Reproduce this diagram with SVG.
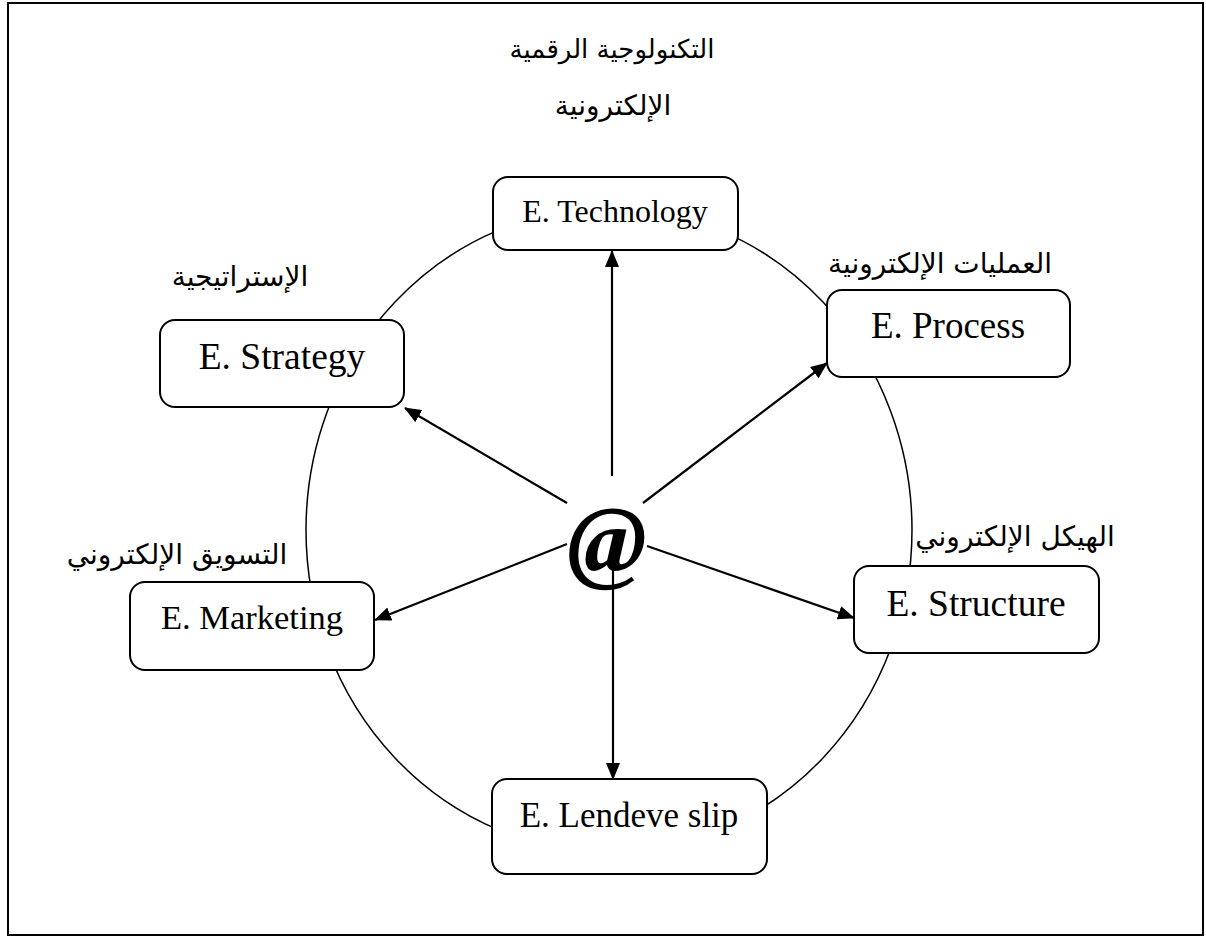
<svg xmlns="http://www.w3.org/2000/svg" width="1206" height="938" viewBox="0 0 1206 938">
<defs>
<marker id="ah" viewBox="0 0 17 14" refX="16" refY="7" markerWidth="17" markerHeight="14" markerUnits="userSpaceOnUse" orient="auto">
<path d="M0,0 L17,7 L0,14 Z" fill="#000"/>
</marker>
<style>
.box{fill:#fff;stroke:#000;stroke-width:2}
.en{font-family:"Liberation Serif","Times New Roman",serif;fill:#000;text-anchor:middle}
.ar{font-family:"DejaVu Sans","Noto Sans",sans-serif;fill:#000;text-anchor:middle;font-size:28px}
.conn{stroke:#000;stroke-width:2.2;fill:none;marker-end:url(#ah)}
</style>
</defs>
<rect x="0" y="0" width="1206" height="938" fill="#fff"/>
<rect x="8" y="3" width="1195" height="932" fill="none" stroke="#000" stroke-width="2"/>
<ellipse id="ring" cx="609" cy="530" rx="303" ry="322" fill="none" stroke="#000" stroke-width="1.5"/>
<g id="connectors">
<line class="conn" x1="612" y1="476" x2="612" y2="251"/>
<line class="conn" x1="567" y1="503" x2="405" y2="408"/>
<line class="conn" x1="567" y1="544" x2="375" y2="620"/>
<line class="conn" x1="643" y1="503" x2="827" y2="363"/>
<line class="conn" x1="647" y1="546" x2="854" y2="618"/>
<line class="conn" x1="613" y1="570" x2="613" y2="779"/>
</g>
<g id="center">
<text x="607" y="572" font-family="Liberation Serif,serif" font-weight="bold" font-style="italic" font-size="96" text-anchor="middle">@</text>
</g>
<g id="title">
<text class="ar" x="612" y="58" direction="rtl" style="font-size:26px">التكنولوجية الرقمية</text>
<text class="ar" x="613" y="115" direction="rtl">الإلكترونية</text>
</g>
<g id="technology">
<rect class="box" x="493" y="177" width="245" height="73" rx="15"/>
<text class="en" x="615" y="222" font-size="32">E. Technology</text>
</g>
<g id="strategy">
<text class="ar" x="240" y="286" direction="rtl">الإستراتيجية</text>
<rect class="box" x="160" y="320" width="244" height="87" rx="15"/>
<text class="en" x="282" y="369" font-size="37.5">E. Strategy</text>
</g>
<g id="process">
<text class="ar" x="940" y="273" direction="rtl">العمليات الإلكترونية</text>
<rect class="box" x="827" y="290" width="243" height="87" rx="15"/>
<text class="en" x="948" y="338" font-size="37">E. Process</text>
</g>
<g id="marketing">
<text class="ar" x="177" y="564" direction="rtl">التسويق الإلكتروني</text>
<rect class="box" x="130" y="582" width="244" height="88" rx="15"/>
<text class="en" x="252" y="629" font-size="34.5">E. Marketing</text>
</g>
<g id="structure">
<text class="ar" x="1015" y="546" direction="rtl">الهيكل الإلكتروني</text>
<rect class="box" x="854" y="566" width="245" height="87" rx="15"/>
<text class="en" x="976" y="616" font-size="37.5">E. Structure</text>
</g>
<g id="lendeve">
<rect class="box" x="492" y="779" width="275" height="95" rx="15"/>
<text class="en" x="629" y="827" font-size="35">E. Lendeve slip</text>
</g>
</svg>
